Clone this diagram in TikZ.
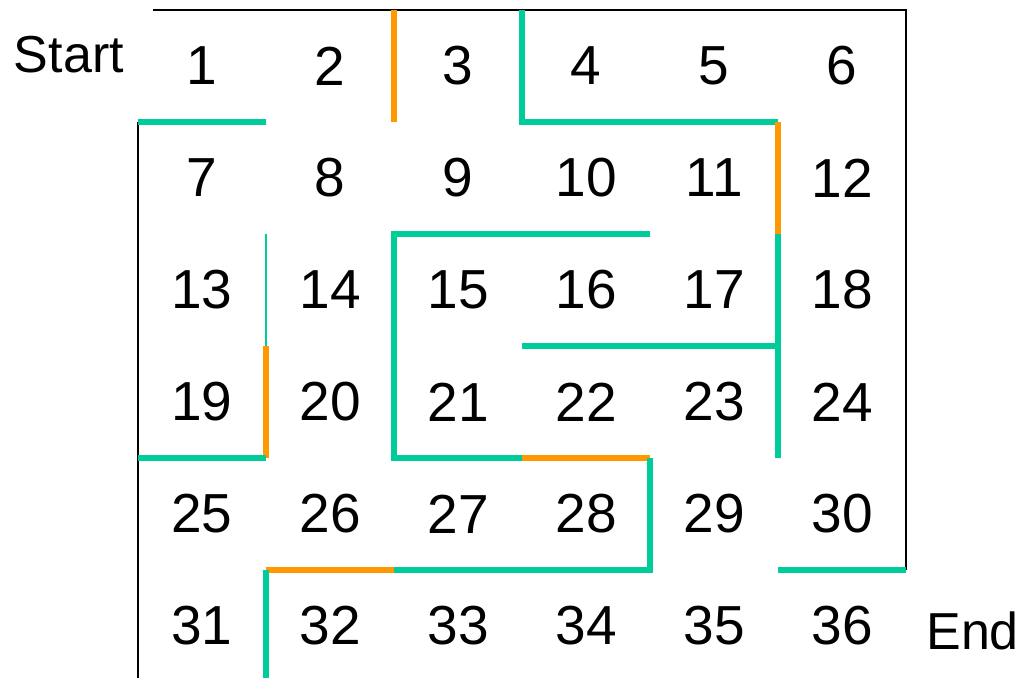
\documentclass[tikz,border=0pt]{standalone}
\usepackage{fontspec}
\setmainfont{Liberation Sans}
\usepackage{tikz}
\definecolor{mazegreen}{RGB}{0,204,153}
\definecolor{mazeorange}{RGB}{255,153,0}
\tikzset{every node/.style={font=\fontsize{55}{55}\selectfont},
cell/.style={inner sep=0pt},
tag/.style={inner sep=0pt,font=\fontsize{52}{52}\selectfont},
border/.style={line width=1.3pt},
gwall/.style={line width=5.5pt,draw=mazegreen},
owall/.style={line width=5.5pt,draw=mazeorange},
thinwall/.style={line width=2pt,draw=mazegreen}}
\begin{document}
\begin{tikzpicture}[x=128pt,y=-112pt]
\useasboundingbox (-1.078,-0.089) rectangle (6.898,5.964);
% Labyrinthe 6x6 : cases numérotées ligne par ligne, puis les murs.
\foreach \r in {0,...,5}{
\foreach \c in {0,...,5}{
\pgfmathtruncatemacro{\n}{6*\r+\c+1}
\node[cell] (c\n) at (\c+.5,\r+.5) {\n};}}
\node[tag] (start) at (-.54,.4) {Start};
\node[tag] (end) at (6.52,5.54) {End};
\draw[border] (.117,0)--(6,0)--(6,5);
\draw[border] (0,1)--(0,5.97);
\draw[gwall] (0,1)--(1,1);
\draw[gwall] (3,0)--(3,1)--(5,1);
\draw[owall] (2,0)--(2,1);
\draw[owall] (5,1)--(5,2);
\draw[gwall] (5,2)--(5,4);
\draw[gwall] (4,2)--(2,2)--(2,4)--(3,4);
\draw[owall] (3,4)--(4,4);
\draw[gwall] (3,3)--(5,3);
\draw[thinwall] (1,2)--(1,3);
\draw[owall] (1,3)--(1,4);
\draw[gwall] (0,4)--(1,4);
\draw[gwall] (4,4)--(4,5)--(2,5);
\draw[owall] (2,5)--(1,5);
\draw[gwall] (1,5)--(1,5.97);
\draw[gwall] (5,5)--(6,5);
\end{tikzpicture}
\end{document}
